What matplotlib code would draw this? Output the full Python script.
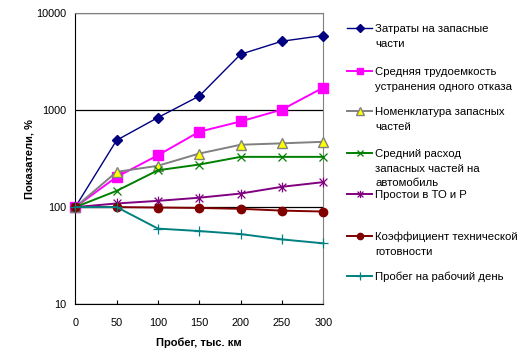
import matplotlib
matplotlib.use("Agg")
import matplotlib.pyplot as plt
from matplotlib.path import Path

plt.rcParams['font.family'] = ['Liberation Sans', 'DejaVu Sans']

mileage = [0, 50, 100, 150, 200, 250, 300]
spare_costs = [100, 490, 840, 1400, 3780, 5150, 5900]
labor = [100, 205, 343, 600, 765, 1015, 1710]
nomenclature = [100, 231, 267, 357, 440, 455, 472]
consumption = [100, 147, 240, 275, 330, 330, 330]
downtime = [100, 109, 116, 125, 138, 162, 181]
readiness = [100, 100, 99, 98, 96, 92, 90]
daily_run = [100, 100, 60, 56.6, 52.7, 46.4, 42.3]

labels = [
    "Затраты на запасные\nчасти",
    "Средняя трудоемкость\nустранения одного отказа",
    "Номенклатура запасных\nчастей",
    "Средний расход\nзапасных частей на\nавтомобиль",
    "Простои в ТО и Р",
    "Коэффициент технической\nготовности",
    "Пробег на рабочий день",
]
yticks = [10, 100, 1000, 10000]
xticks = [0, 50, 100, 150, 200, 250, 300]

star = Path([(0, -1), (0, 1), (-0.8, -0.8), (0.8, 0.8), (-0.8, 0.8), (0.8, -0.8)],
            [Path.MOVETO, Path.LINETO, Path.MOVETO, Path.LINETO, Path.MOVETO, Path.LINETO])

styles = [
    dict(color='#000080', marker='D', ms=5, mfc='#000080', mec='#000080', lw=1.0),
    dict(color='#FF00FF', marker='s', ms=6.5, mfc='#FF00FF', mec='#FF00FF', lw=1.4),
    dict(color='#808080', marker='^', ms=7, mfc='#FFFF00', mec='#808080', lw=1.4),
    dict(color='#008000', marker='x', ms=6, mfc='none', mec='#008000', lw=1.4, mew=0.9),
    dict(color='#800080', marker=star, ms=7, mfc='none', mec='#800080', lw=1.4, mew=0.9),
    dict(color='#800000', marker='o', ms=6, mfc='#800000', mec='#800000', lw=1.4),
    dict(color='#008080', marker='+', ms=7, mfc='none', mec='#008080', lw=1.4, mew=0.9),
]
series = [spare_costs, labor, nomenclature, consumption, downtime, readiness, daily_run]

W, H = 524, 355
fig = plt.figure(figsize=(W / 100, H / 100), dpi=100)
x0, x1, y0, y1 = 75.3, 323.3, 13.3, 304
ax = fig.add_axes([x0 / W, 1 - y1 / H, (x1 - x0) / W, (y1 - y0) / H])

for s, st in zip(series, styles):
    ax.plot(mileage, s, clip_on=False, zorder=3, **st)

ax.set_yscale('log')
ax.set_ylim(10, 10000)
ax.set_xlim(0, 300)
ax.set_yticks(yticks)
ax.set_yticklabels([str(v) for v in yticks])
ax.yaxis.set_minor_locator(matplotlib.ticker.NullLocator())
ax.set_xticks(xticks)
ax.tick_params(axis='y', labelsize=7.8, length=0, pad=6.8)
ax.tick_params(axis='x', labelsize=7.8, length=3, direction='in', width=0.8, pad=10)
ax.grid(True, axis='y', which='major', color='black', lw=0.9, zorder=1)
for side in ['top', 'right']:
    ax.spines[side].set_color('#808080')
for side in ['left', 'bottom']:
    ax.spines[side].set_color('black')
ax.set_xlabel("Пробег, тыс. км", fontsize=8, fontweight='bold', va='center')
ax.xaxis.set_label_coords(0.5, (y1 - 342.7) / (y1 - y0))
ax.set_ylabel("Показатели, %", fontsize=8, fontweight='bold', va='center')
ax.yaxis.set_label_coords((30 - x0) / (x1 - x0), 0.5)

# Legend drawn manually
leg_y = [28, 71, 111, 153, 194, 236, 276]
pitch = 14.6
tf = fig.transFigure
for lab, st, py in zip(labels, styles, leg_y):
    yy = 1 - py / H
    kw = dict(st)
    kw['ms'] = kw['ms'] * 0.75
    fig.add_artist(plt.Line2D([347 / W, 359.5 / W, 372 / W], [yy, yy, yy], transform=tf,
                              markevery=[1], **kw))
    for i, line in enumerate(lab.split("\n")):
        fig.text(375 / W, 1 - (py + i * pitch) / H, line, fontsize=8.2,
                 va='center_baseline', ha='left', transform=tf)

fig.savefig("out.png", dpi=100)
